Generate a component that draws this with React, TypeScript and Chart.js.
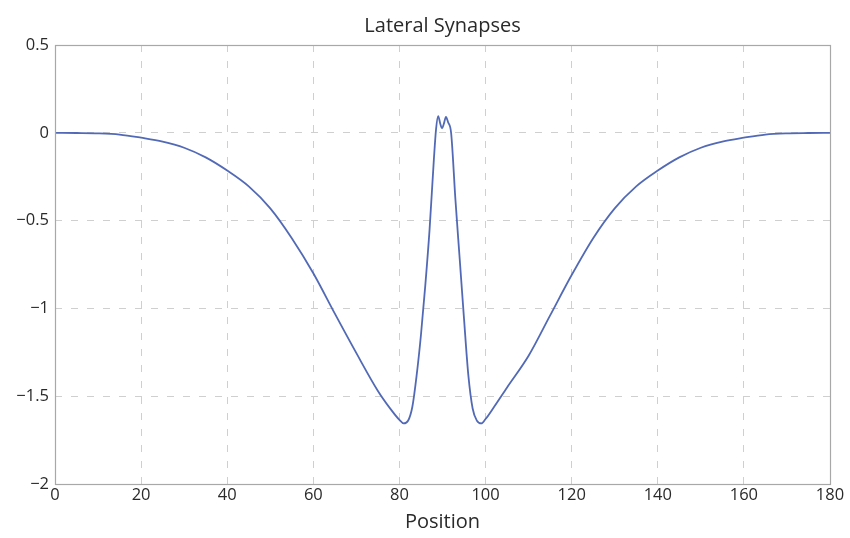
import React, { useEffect, useRef } from "react";
import { Chart, registerables } from "chart.js";

Chart.register(...registerables);

const positions = [
  0, 5, 10, 15, 20, 25, 30, 35, 40, 45, 50, 55, 60, 65, 70, 75, 78, 80, 81, 82, 83, 84, 85, 86, 87, 88,
  88.5, 89, 89.5, 89.9, 90.3, 90.8, 91.3, 92, 93, 94, 95, 96, 97, 98, 99, 100, 102, 105, 110, 115, 120,
  125, 130, 135, 140, 145, 150, 155, 160, 165, 170, 175, 180,
];
const synapseValues = [
  0, -0.001, -0.003, -0.01, -0.028, -0.05, -0.085, -0.14, -0.215, -0.305, -0.43, -0.6, -0.8, -1.03,
  -1.255, -1.47, -1.575, -1.635, -1.655, -1.64, -1.56, -1.38, -1.15, -0.87, -0.55, -0.15,
  0.02, 0.095, 0.05, 0.025, 0.05, 0.09, 0.06, 0.0, -0.38, -0.72, -1.06, -1.38, -1.57, -1.64, -1.655,
  -1.63, -1.56, -1.45, -1.27, -1.04, -0.81, -0.6, -0.43, -0.305, -0.215, -0.14, -0.085, -0.05, -0.028,
  -0.01, -0.003, -0.001, 0,
];
const xTickValues = [0, 20, 40, 60, 80, 100, 120, 140, 160, 180];
const yTickValues = [-2, -1.5, -1, -0.5, 0, 0.5];
const chartTitle = "Lateral Synapses";
const xAxisTitle = "Position";

const FONT = "'Open Sans', sans-serif";
const TEXT = "#2a2a2a";

const framePlugin = {
  id: "frame",
  afterDatasetsDraw(chart: any) {
    const { ctx, chartArea } = chart;
    ctx.save();
    ctx.strokeStyle = "#a8a8a8";
    ctx.lineWidth = 1.2;
    ctx.strokeRect(
      Math.round(chartArea.left) + 0.5,
      Math.round(chartArea.top) + 0.5,
      Math.round(chartArea.right - chartArea.left),
      Math.round(chartArea.bottom - chartArea.top)
    );
    ctx.restore();
  },
};

function fmt(v: number) {
  const s = String(Math.abs(v));
  return v < 0 ? "\u2212" + s : s;
}

export default function App() {
  const ref = useRef<HTMLCanvasElement | null>(null);
  useEffect(() => {
    if (!ref.current) return;
    const chart = new Chart(ref.current, {
      type: "line",
      data: {
        datasets: [
          {
            data: positions.map((x, i) => ({ x, y: synapseValues[i] })),
            borderColor: "rgb(82,106,182)",
            borderWidth: 1.8,
            pointRadius: 0,
            cubicInterpolationMode: "monotone",
            fill: false,
          },
        ],
      },
      options: {
        animation: false,
        responsive: false,
        maintainAspectRatio: false,
        layout: { padding: { left: 0, right: 20, top: 5, bottom: 0 } },
        plugins: {
          legend: { display: false },
          tooltip: { enabled: false },
          title: {
            display: true,
            text: chartTitle,
            fullSize: false,
            color: TEXT,
            font: { family: FONT, size: 20, weight: "normal", lineHeight: 1.2 },
            padding: { top: 9, bottom: 7 },
          },
        },
        scales: {
          x: {
            type: "linear",
            min: 0,
            max: 180,
            afterBuildTicks: (scale: any) => {
              scale.ticks = xTickValues.map((v) => ({ value: v }));
            },
            afterFit: (scale: any) => {
              scale.height = 54;
            },
            ticks: {
              color: TEXT,
              font: { family: FONT, size: 16.5 },
              padding: 1,
              maxRotation: 0,
              autoSkip: false,
            },
            grid: {
              color: "#cfcfcf",
              lineWidth: 1,
              drawTicks: false,
              tickLength: 0,
            },
            border: { display: false, dash: [7, 9] },
            title: {
              display: true,
              text: xAxisTitle,
              color: TEXT,
              font: { family: FONT, size: 20, lineHeight: 1.2 },
              padding: { top: 0, bottom: 4 },
            },
          },
          y: {
            type: "linear",
            min: -2,
            max: 0.5,
            afterBuildTicks: (scale: any) => {
              scale.ticks = yTickValues.map((v) => ({ value: v }));
            },
            afterFit: (scale: any) => {
              scale.width = 55;
            },
            ticks: {
              color: TEXT,
              font: { family: FONT, size: 16.5 },
              padding: 6,
              autoSkip: false,
              callback: (v: any) => fmt(Number(v)),
            },
            grid: {
              color: "#cfcfcf",
              lineWidth: 1,
              drawTicks: false,
              tickLength: 0,
            },
            border: { display: false, dash: [7, 9] },
          },
        },
      },
      plugins: [framePlugin],
    } as any);
    return () => chart.destroy();
  }, []);
  return (
    <div style={{ position: "fixed", left: 0, top: 0, width: 850, height: 538, background: "#fff" }}>
      <canvas ref={ref} width={850} height={538} style={{ display: "block" }} />
    </div>
  );
}
